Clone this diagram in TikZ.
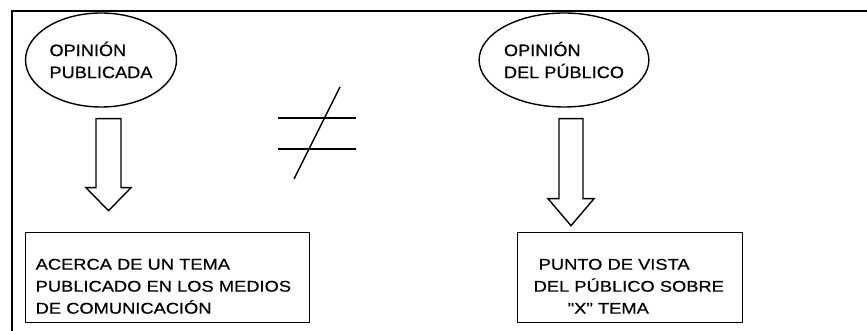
\documentclass[tikz,border=0pt]{standalone}
\usepackage{fontspec}
\newfontfamily\cajafont[FakeStretch=1.18,FakeBold=0.6]{Liberation Sans}
\newfontfamily\ovalofont[FakeStretch=1.1,FakeBold=0.6]{Liberation Sans}
\usetikzlibrary{shapes.geometric}
\begin{document}
\begin{tikzpicture}[x=1pt,y=-1pt,line width=1.4pt,
    ovalo/.style={draw,ellipse,minimum width=151pt,minimum height=94pt,inner sep=0pt,align=left,
        font=\ovalofont\fontsize{16.5}{22}\selectfont},
    caja/.style={draw,rectangle,anchor=north west,minimum height=90pt,inner ysep=0pt,align=left,
        font=\cajafont\fontsize{15.5}{22}\selectfont}]
    \useasboundingbox(0,0)rectangle(867,331);
    \draw[line width=1.8pt](867,11)--(12,11)--(12,331);
    \node[ovalo](pub)at(101,60){OPINIÓN\\PUBLICADA};
    \node[ovalo](pubco)at(564,60){OPINIÓN\\DEL PÚBLICO};
    \node[caja,text width=264pt,inner xsep=10pt](tema)at(25,232){\rule{0pt}{28pt}ACERCA DE UN TEMA\\PUBLICADO EN LOS MEDIOS\\DE COMUNICACIÓN};
    \node[caja,text width=193pt,inner xsep=16pt](vista)at(517,232){\rule{0pt}{28pt}\hspace*{5pt}PUNTO DE VISTA\\DEL PÚBLICO SOBRE\\\hspace*{34pt}"X" TEMA};
    % flechas huecas
    \foreach \n/\dx/\s/\h/\len/\tip in {pub/7.5/12.5/10/69/23,pubco/7/12/11/80/27}{
        \draw([xshift=\dx pt,yshift=-11pt]\n.south)++(-\s,0)--++(0,\len)--++(-\h,0)
            --++(\s+\h,\tip)--++(\s+\h,-\tip)--++(-\h,0)--++(0,-\len)--cycle;
    }
    % distinto
    \draw(278,118)--(356,118);
    \draw(278,149)--(356,149);
    \draw(294,179)--(340,87);
\end{tikzpicture}
\end{document}
